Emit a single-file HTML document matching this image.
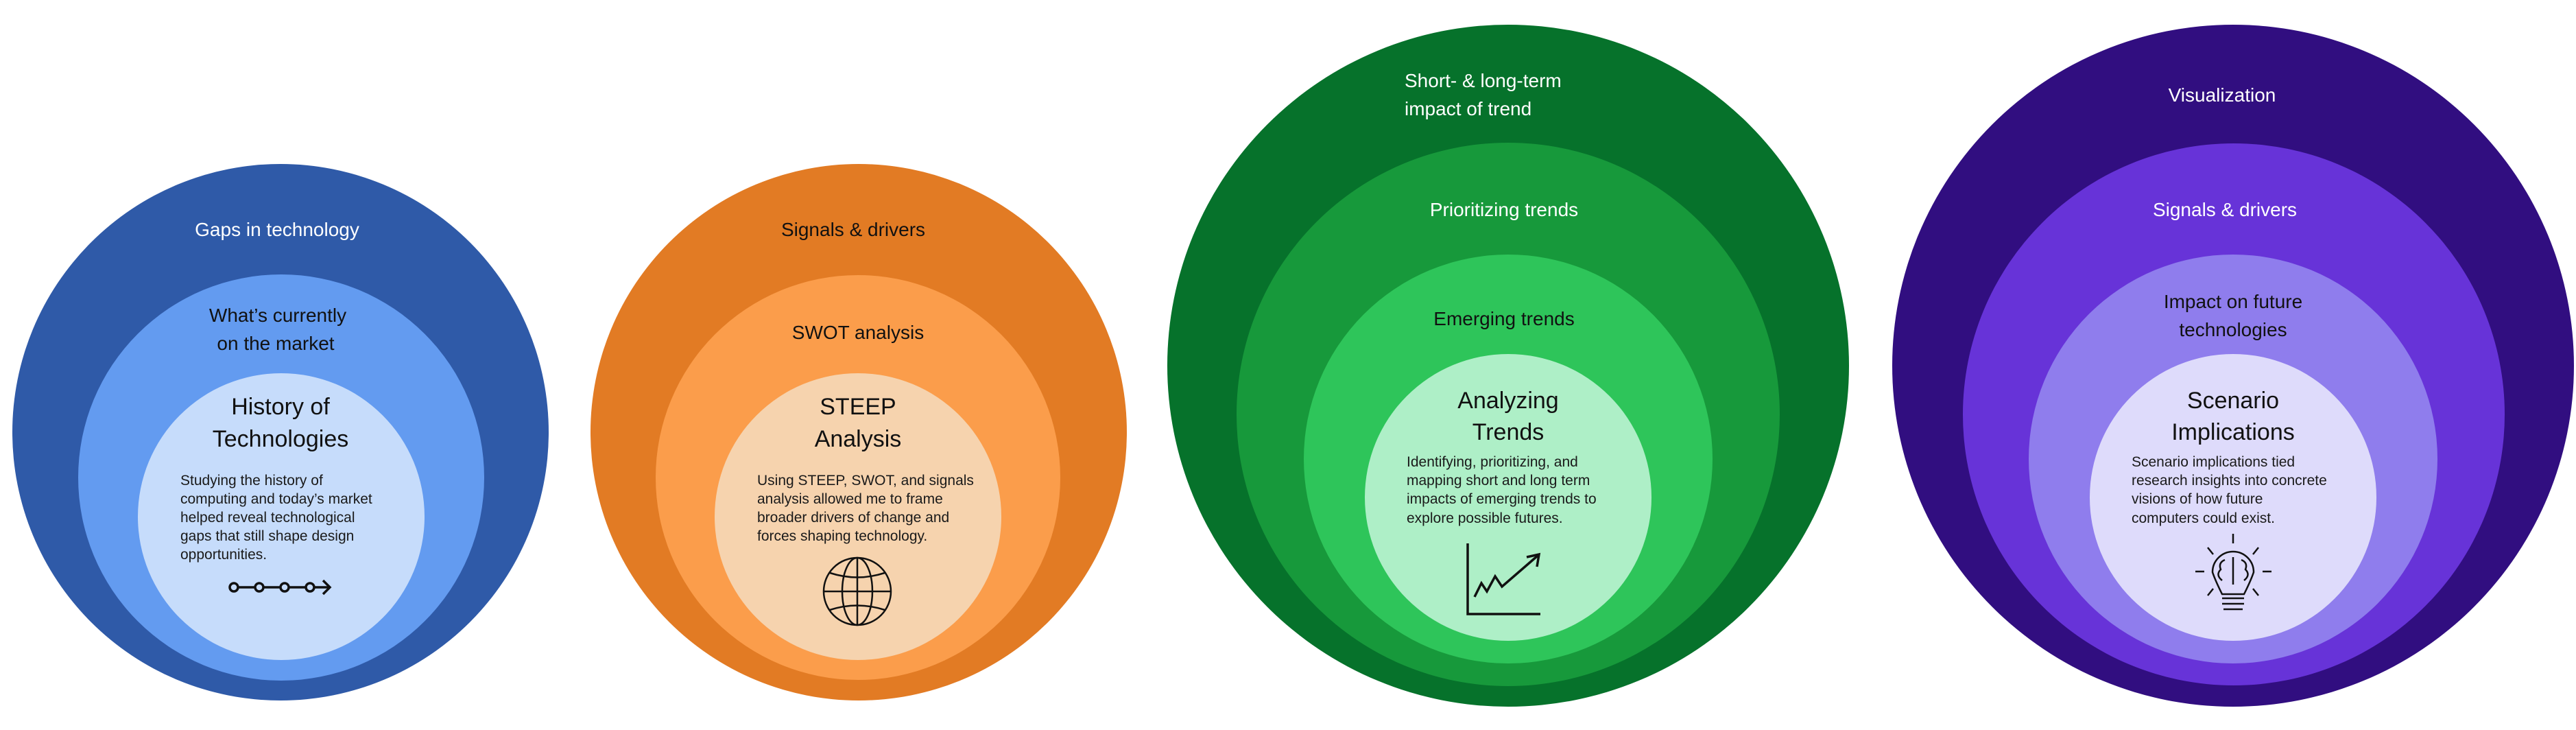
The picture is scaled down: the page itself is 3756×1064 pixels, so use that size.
<!DOCTYPE html>
<html><head><meta charset="utf-8"><style>
html,body{margin:0;padding:0;background:#fff;}
svg{display:block}
text{font-family:"Liberation Sans",sans-serif;}
.t{font-size:28px;text-anchor:middle}
.h{font-size:34px;text-anchor:middle;fill:#111}
.b{font-size:21px;fill:#1a1a1a}
</style></head><body>
<svg width="3756" height="1064" viewBox="0 0 3756 1064" xmlns="http://www.w3.org/2000/svg">
<!-- Blue -->
<circle cx="409" cy="630" r="391" fill="#2f5aa8"/>
<circle cx="410" cy="696" r="296" fill="#639bf0"/>
<circle cx="410" cy="753" r="209" fill="#c6dcfb"/>
<text class="t" x="404" y="344" fill="#fff">Gaps in technology</text>
<text class="t" x="405" y="469" fill="#111">What’s currently</text>
<text class="t" x="402" y="510" fill="#111">on the market</text>
<text class="h" x="409" y="604">History of</text>
<text class="h" x="409" y="651">Technologies</text>
<text class="b" x="263" y="707">Studying the history of</text>
<text class="b" x="263" y="734">computing and today’s market</text>
<text class="b" x="263" y="761">helped reveal technological</text>
<text class="b" x="263" y="788">gaps that still shape design</text>
<text class="b" x="263" y="815">opportunities.</text>
<g stroke="#111" stroke-width="3.5" fill="none">
<circle cx="341" cy="856" r="6"/><circle cx="378" cy="856" r="6"/><circle cx="415" cy="856" r="6"/><circle cx="452" cy="856" r="6"/>
<line x1="347" y1="856" x2="372" y2="856"/><line x1="384" y1="856" x2="409" y2="856"/><line x1="421" y1="856" x2="446" y2="856"/><line x1="458" y1="856" x2="480" y2="856"/>
<polyline points="471,846 481,856 471,866"/>
</g>
<!-- Orange -->
<circle cx="1252" cy="630" r="391" fill="#e27b24"/>
<circle cx="1251" cy="696" r="295" fill="#fb9d4b"/>
<circle cx="1251" cy="753" r="209" fill="#f6d3ae"/>
<text class="t" x="1244" y="344" fill="#111">Signals &amp; drivers</text>
<text class="t" x="1251" y="494" fill="#111">SWOT analysis</text>
<text class="h" x="1251" y="604">STEEP</text>
<text class="h" x="1251" y="651">Analysis</text>
<text class="b" x="1104" y="707">Using STEEP, SWOT, and signals</text>
<text class="b" x="1104" y="734">analysis allowed me to frame</text>
<text class="b" x="1104" y="761">broader drivers of change and</text>
<text class="b" x="1104" y="788">forces shaping technology.</text>
<g stroke="#111" stroke-width="2.5" fill="none">
<circle cx="1250" cy="862" r="49"/>
<ellipse cx="1250" cy="862" rx="22" ry="49"/>
<line x1="1250" y1="813" x2="1250" y2="911"/>
<line x1="1201" y1="862" x2="1299" y2="862"/>
<path d="M1210 835 Q1250 848 1290 835"/><path d="M1210 889 Q1250 876 1290 889"/>
</g>
<!-- Green -->
<circle cx="2199" cy="533" r="497" fill="#06722b"/>
<circle cx="2199" cy="604" r="396" fill="#17993b"/>
<circle cx="2199" cy="669" r="298" fill="#2ec55a"/>
<circle cx="2199" cy="725" r="209" fill="#aeefc7"/>
<text class="t" x="2048" y="127" fill="#fff" style="text-anchor:start">Short- &amp; long-term</text>
<text class="t" x="2048" y="168" fill="#fff" style="text-anchor:start">impact of trend</text>
<text class="t" x="2193" y="315" fill="#fff">Prioritizing trends</text>
<text class="t" x="2193" y="474" fill="#111">Emerging trends</text>
<text class="h" x="2199" y="595">Analyzing</text>
<text class="h" x="2199" y="641">Trends</text>
<text class="b" x="2051" y="680">Identifying, prioritizing, and</text>
<text class="b" x="2051" y="707">mapping short and long term</text>
<text class="b" x="2051" y="734">impacts of emerging trends to</text>
<text class="b" x="2051" y="762">explore possible futures.</text>
<g stroke="#111" stroke-width="3.5" fill="none">
<polyline points="2140,792 2140,895 2246,895"/>
<polyline points="2150,870 2160,850 2168,862 2180,840 2190,855 2242,810"/>
<polyline points="2226,812 2244,808 2241,826"/>
</g>
<!-- Purple -->
<circle cx="3256" cy="533" r="497" fill="#310e80"/>
<circle cx="3257" cy="604" r="395" fill="#6733d8"/>
<circle cx="3256" cy="669" r="298" fill="#8f7ded"/>
<circle cx="3256" cy="725" r="209" fill="#dedbfb"/>
<text class="t" x="3240" y="148" fill="#fff">Visualization</text>
<text class="t" x="3244" y="315" fill="#fff">Signals &amp; drivers</text>
<text class="t" x="3256" y="449" fill="#111">Impact on future</text>
<text class="t" x="3256" y="490" fill="#111">technologies</text>
<text class="h" x="3256" y="595">Scenario</text>
<text class="h" x="3256" y="641">Implications</text>
<text class="b" x="3108" y="680">Scenario implications tied</text>
<text class="b" x="3108" y="707">research insights into concrete</text>
<text class="b" x="3108" y="734">visions of how future</text>
<text class="b" x="3108" y="762">computers could exist.</text>
<g stroke="#111" stroke-width="2.5" fill="none">
<path d="M3240 866 Q3230 846 3226 834 A30 30 0 1 1 3286 834 Q3282 846 3272 866 Z"/>
<line x1="3240" y1="872" x2="3272" y2="872"/><line x1="3240" y1="880" x2="3272" y2="880"/><line x1="3242" y1="888" x2="3270" y2="888"/>
<line x1="3256" y1="778" x2="3256" y2="792"/>
<line x1="3201" y1="833" x2="3214" y2="833"/><line x1="3299" y1="833" x2="3312" y2="833"/>
<line x1="3219" y1="798" x2="3227" y2="808"/><line x1="3293" y1="798" x2="3285" y2="808"/>
<line x1="3219" y1="868" x2="3227" y2="858"/><line x1="3293" y1="868" x2="3285" y2="858"/>
<path d="M3256 812 V852 M3244 816 q-10 4 -6 14 q-8 8 2 16 M3268 816 q10 4 6 14 q8 8 -2 16"/>
</g>
</svg>
</body></html>
